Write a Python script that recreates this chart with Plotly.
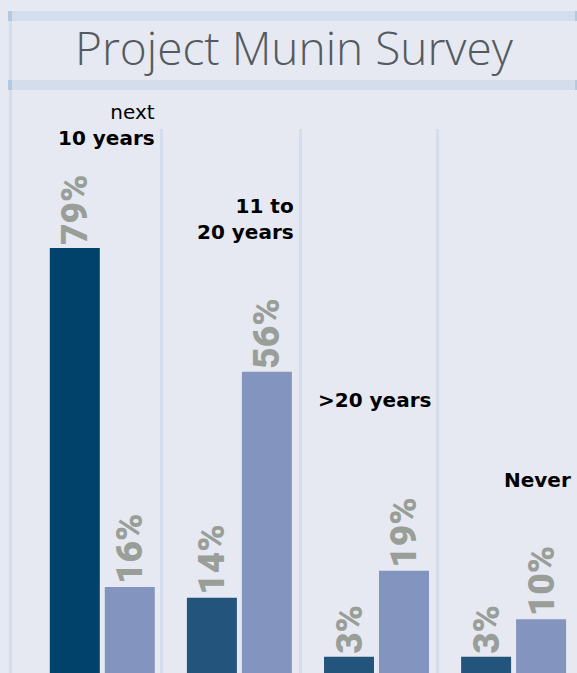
import plotly.graph_objects as go

# ---- data ----
categories = ["next 10 years", "11 to 20 years", ">20 years", "Never"]
series_dark = [79, 14, 3, 3]
series_light = [16, 56, 19, 10]
label_lines = [("next", "10 years"), ("11 to", "20 years"), (None, ">20 years"), (None, "Never")]
title_text = "Project Munin Survey"

W, H = 577, 673
BG = "#e6e9f1"
BAND = "#d3ddeb"
CAP = "#b3c9e2"
TXT_GREY = "#9a9e99"

def px(x):
    return x / W

def py(y):
    return 1 - y / H

fig = go.Figure()
fig.add_trace(go.Bar(
    x=categories, y=series_dark, name="Series 1",
    marker=dict(color=["#01426a", "#23547b", "#23547b", "#23547b"], line=dict(width=0)),
    text=[f"{v}%" for v in series_dark], textposition="outside", textangle=-90,
    constraintext="none", cliponaxis=False,
    textfont=dict(family="Roboto", size=37, color=TXT_GREY, weight=900),
))
fig.add_trace(go.Bar(
    x=categories, y=series_light, name="Series 2",
    marker=dict(color="#8394bf", line=dict(width=0)),
    text=[f"{v}%" for v in series_light], textposition="outside", textangle=-90,
    constraintext="none", cliponaxis=False,
    textfont=dict(family="Roboto", size=37, color=TXT_GREY, weight=900),
))

shapes = []
def rect(x0, y0, x1, y1, color):
    shapes.append(dict(type="rect", xref="paper", yref="paper",
                       x0=px(x0), x1=px(x1), y0=py(y1), y1=py(y0),
                       fillcolor=color, line=dict(width=0), layer="below"))

# title bands
rect(8, 11, 577, 21, BAND)
rect(8, 80, 577, 90, BAND)
rect(8, 11, 12, 21, CAP)
rect(8, 80, 12, 90, CAP)
rect(575, 11, 577, 21, CAP)
rect(575, 80, 577, 90, CAP)
# left vertical line
rect(9, 21, 12, 80, BAND)
rect(9, 90, 12, 673, BAND)
# group dividers
for x0 in (160, 299, 436):
    rect(x0, 129, x0 + 3, 673, BAND)

annotations = [dict(
    text=title_text, xref="paper", yref="paper", x=px(294), y=py(47),
    xanchor="center", yanchor="middle", showarrow=False,
    font=dict(family="Open Sans", size=46, color="#545a5f", weight=300),
)]

label_pos = [(157, 125), (296, 219), (433, 400), (573, 480)]
for (l1, l2), (xr, yc) in zip(label_lines, label_pos):
    if l1:
        txt = f"<span style='font-weight:normal'>{l1}</span><br><b>{l2}</b>" if l1 == "next" else f"<b>{l1}</b><br><b>{l2}</b>"
    else:
        txt = f"<b>{l2}</b>"
    annotations.append(dict(
        text=txt, xref="paper", yref="paper", x=px(xr), y=py(yc),
        xanchor="right", yanchor="middle", align="right", showarrow=False,
        font=dict(family="DejaVu Sans", size=20, color="#000000"),
    ))

pxu = 137.1  # px per category
x0 = -102.3 / pxu
fig.update_layout(
    width=W, height=H,
    margin=dict(l=0, r=0, t=0, b=0, pad=0),
    paper_bgcolor=BG, plot_bgcolor=BG,
    barmode="group", bargap=0.198, bargroupgap=0.0909,
    showlegend=False,
    xaxis=dict(visible=False, range=[x0, x0 + W / pxu]),
    yaxis=dict(visible=False, range=[0, H / 5.381]),
    shapes=shapes, annotations=annotations,
)

fig.write_html("out.html", config={"displayModeBar": False},
               post_script="document.body.style.margin='0';document.body.style.overflow='hidden';")
